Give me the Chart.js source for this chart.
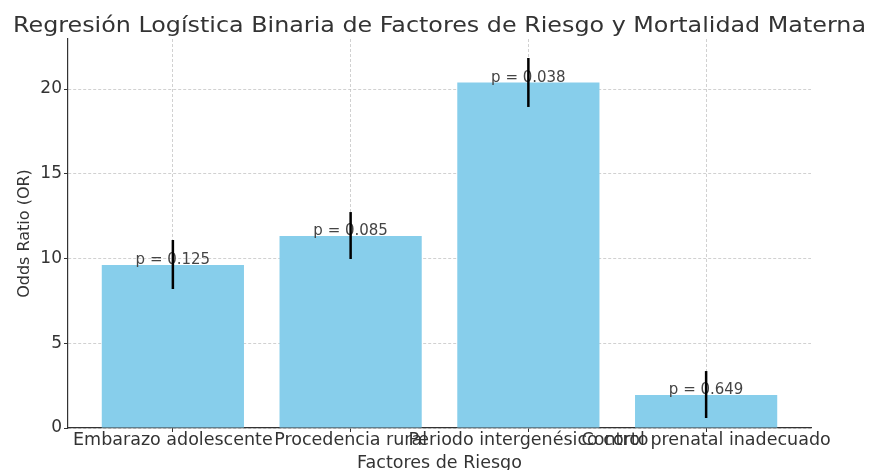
<!DOCTYPE html>
<html>
<head>
<meta charset="utf-8">
<script src="https://cdn.jsdelivr.net/npm/chart.js@4/dist/chart.umd.min.js"></script>
<style>
  html, body { margin: 0; padding: 0; background: #fff; }
  #wrap { width: 871px; height: 470px; }
</style>
</head>
<body>
<div id="wrap"><canvas id="c" width="871" height="470"></canvas></div>
<script>
const chartTitle = 'Regresión Logística Binaria de Factores de Riesgo y Mortalidad Materna';
const categories = ["Embarazo adolescente", "Procedencia rural", "Periodo intergenésico corto", "Control prenatal inadecuado"];
const oddsRatios = [9.62, 11.33, 20.38, 1.95];
const ciLower = [8.2, 9.97, 18.94, 0.59];
const ciUpper = [11.09, 12.74, 21.83, 3.36];
const pValues = ["0.125", "0.085", "0.038", "0.649"];
const yTicks = [0, 5, 10, 15, 20];

const FONT = "'DejaVu Sans', sans-serif";
const TXT = '#333';

const overlay = {
  id: 'overlay',
  afterDraw(chart) {
    const ctx = chart.ctx;
    const xs = chart.scales.x, ys = chart.scales.y;
    ctx.save();
    // title (slightly stretched horizontally like the reference)
    ctx.font = "21px " + FONT;
    ctx.fillStyle = TXT;
    ctx.textAlign = 'center';
    ctx.textBaseline = 'alphabetic';
    const w = ctx.measureText(chartTitle).width;
    const sx = 853 / w;
    ctx.save();
    ctx.translate(439.5, 32);
    ctx.scale(sx, 1);
    ctx.fillText(chartTitle, 0, 0);
    ctx.restore();

    ctx.font = "15px " + FONT;
    ctx.fillStyle = '#444';
    categories.forEach((c, i) => {
      const x = xs.getPixelForValue(i);
      const y = ys.getPixelForValue(oddsRatios[i]);
      ctx.fillText('p = ' + pValues[i], x, y - 1);
    });
    ctx.strokeStyle = '#000';
    ctx.lineWidth = 2.5;
    categories.forEach((c, i) => {
      const x = xs.getPixelForValue(i);
      ctx.beginPath();
      ctx.moveTo(x, ys.getPixelForValue(ciLower[i]));
      ctx.lineTo(x, ys.getPixelForValue(ciUpper[i]));
      ctx.stroke();
    });
    ctx.restore();
  }
};

new Chart(document.getElementById('c'), {
  type: 'bar',
  data: {
    datasets: [{
      data: oddsRatios.map((v, i) => ({ x: i, y: v })),
      backgroundColor: '#87CEEB',
      borderWidth: 0,
      categoryPercentage: 1.0,
      barPercentage: 0.8
    }]
  },
  options: {
    responsive: false,
    animation: false,
    devicePixelRatio: 1,
    layout: { padding: { left: 0, right: 60, top: 39, bottom: 0 } },
    plugins: {
      legend: { display: false },
      tooltip: { enabled: false },
      title: { display: false }
    },
    scales: {
      x: {
        type: 'linear',
        min: -0.59,
        max: 3.59,
        offset: false,
        z: 1,
        afterBuildTicks(s) { s.ticks = categories.map((c, i) => ({ value: i })); },
        afterFit(s) { s.height = 42; },
        ticks: {
          autoSkip: false, maxRotation: 0, minRotation: 0,
          color: TXT, padding: -2,
          font: { family: FONT, size: 17.5 },
          callback: (v) => categories[v]
        },
        grid: { offset: false, color: 'rgba(190,190,190,0.7)', lineWidth: 1, tickLength: 4, tickColor: TXT, tickWidth: 1 },
        border: { display: true, color: TXT, width: 1.2, dash: [3, 2] },
        title: {
          display: true, text: 'Factores de Riesgo', color: TXT,
          font: { family: FONT, size: 17.5 }, padding: { top: 0, bottom: -4 }
        }
      },
      y: {
        min: 0,
        max: 22.95,
        z: 1,
        afterBuildTicks(s) { s.ticks = yTicks.map(v => ({ value: v })); },
        afterFit(s) { s.width = 68; },
        ticks: {
          color: TXT, padding: 2,
          font: { family: FONT, size: 17 }
        },
        grid: { color: 'rgba(190,190,190,0.7)', lineWidth: 1, tickLength: 4, tickColor: TXT, tickWidth: 1 },
        border: { display: true, color: TXT, width: 1.2, dash: [3, 2] },
        title: {
          display: true, text: 'Odds Ratio (OR)', color: TXT,
          font: { family: FONT, size: 16 }, padding: { top: 15, bottom: 0 }
        }
      }
    }
  },
  plugins: [overlay]
});
</script>
</body>
</html>
